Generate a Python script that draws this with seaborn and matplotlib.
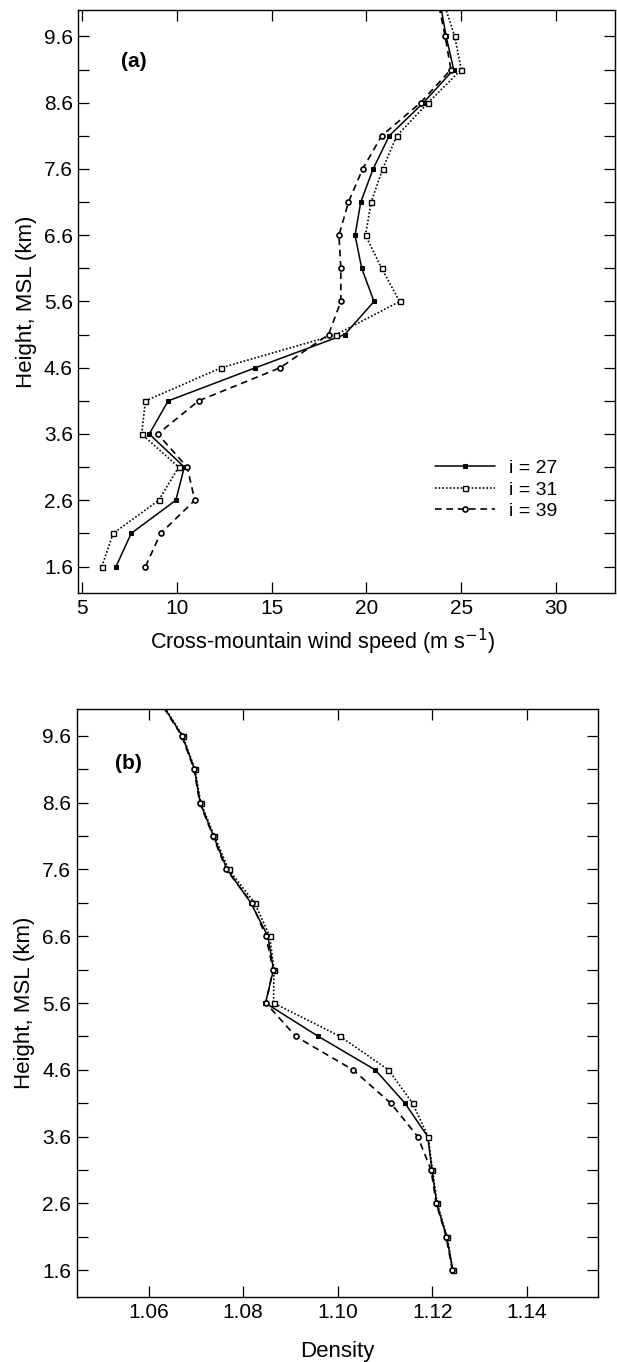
import numpy as np
import pandas as pd
import matplotlib
matplotlib.use("Agg")
import matplotlib.pyplot as plt
import seaborn as sns
from matplotlib.ticker import FixedLocator
from matplotlib.legend_handler import HandlerLine2D

# ---------------- data ----------------
heights = [1.6, 2.1, 2.6, 3.1, 3.6, 4.1, 4.6, 5.1, 5.6, 6.1, 6.6, 7.1, 7.6, 8.1, 8.6, 9.1, 9.6, 10.1]

wind_i27 = [6.8, 7.6, 9.95, 10.4, 8.55, 9.55, 14.15, 18.85, 20.4, 19.75, 19.4, 19.7, 20.35, 21.2, 23.0, 24.6, 24.2, 23.89]
wind_i31 = [6.05, 6.65, 9.05, 10.1, 8.15, 8.35, 12.35, 18.4, 21.75, 20.8, 19.95, 20.25, 20.85, 21.6, 23.25, 25.0, 24.65, 24.09]
wind_i39 = [8.35, 9.15, 10.95, 10.55, 9.0, 11.15, 15.45, 18.0, 18.65, 18.65, 18.55, 19.05, 19.8, 20.8, 22.85, 24.45, 24.15, 23.79]

dens_i27 = [1.1243, 1.1230, 1.1209, 1.1199, 1.1190, 1.1142, 1.1079, 1.0959, 1.0847, 1.0864, 1.0852, 1.0816, 1.0766, 1.0737, 1.0709, 1.0697, 1.0671, 1.0626]
dens_i31 = [1.1243, 1.1231, 1.1210, 1.1200, 1.1191, 1.1158, 1.1107, 1.1005, 1.0864, 1.0865, 1.0856, 1.0824, 1.0769, 1.0739, 1.0710, 1.0698, 1.0672, 1.0627]
dens_i39 = [1.1242, 1.1229, 1.1208, 1.1197, 1.1169, 1.1112, 1.1032, 1.0911, 1.0848, 1.0863, 1.0848, 1.0818, 1.0764, 1.0736, 1.0708, 1.0696, 1.0670, 1.0625]

series_labels = ["i = 27", "i = 31", "i = 39"]
ytick_major = [1.6, 2.6, 3.6, 4.6, 5.6, 6.6, 7.6, 8.6, 9.6]
ytick_minor = [2.1, 3.1, 4.1, 5.1, 6.1, 7.1, 8.1, 9.1]
xticks_a = [5, 10, 15, 20, 25, 30]
xticks_b = [1.06, 1.08, 1.10, 1.12, 1.14]
xticklabels_b = ["1.06", "1.08", "1.10", "1.12", "1.14"]

# ---------------- style ----------------
sns.set_style("ticks")
plt.rcParams["font.family"] = ["Liberation Sans", "DejaVu Sans"]
plt.rcParams["axes.linewidth"] = 1.0
plt.rcParams["text.color"] = "black"
plt.rcParams["axes.labelcolor"] = "black"
plt.rcParams["xtick.color"] = "black"
plt.rcParams["ytick.color"] = "black"

fig = plt.figure(figsize=(6.17, 13.62), dpi=100)
ax_a = fig.add_axes([0.1272, 0.5646, 0.8695, 0.4281])
ax_b = fig.add_axes([0.1243, 0.0477, 0.8450, 0.4317])

styles = [
    dict(linestyle="-", marker="s", markersize=3.2, markerfacecolor="black",
         markeredgecolor="black", linewidth=1.1),
    dict(linestyle=(0, (1, 1.2)), marker="s", markersize=3.6, markerfacecolor="white",
         markeredgecolor="black", markeredgewidth=1.0, linewidth=1.2),
    dict(linestyle=(0, (4, 2.8)), marker="o", markersize=3.6, markerfacecolor="white",
         markeredgecolor="black", markeredgewidth=1.2, linewidth=1.2),
]


def draw(ax, series, xlim, xticks, xticklabels, xlabel, xlabelpad, xlabelsize):
    for vals, lab, st in zip(series, series_labels, styles):
        df = pd.DataFrame({"x": vals, "h": heights})
        sns.lineplot(data=df, x="x", y="h", sort=False, estimator=None, ax=ax,
                     color="black", label=lab, **st)
    ax.set_xlim(*xlim)
    ax.set_ylim(1.2, 10.0)
    ax.xaxis.set_major_locator(FixedLocator(xticks))
    ax.set_xticklabels(xticklabels)
    ax.yaxis.set_major_locator(FixedLocator(ytick_major))
    ax.yaxis.set_minor_locator(FixedLocator(ytick_minor))
    ax.set_yticklabels([f"{v:.1f}" for v in ytick_major])
    ax.tick_params(axis="both", which="both", direction="in", length=8, width=0.9,
                   top=True, right=True, labelsize=15, pad=4, colors="black")
    ax.set_xlabel(xlabel, fontsize=xlabelsize, labelpad=xlabelpad)
    ax.set_ylabel("Height, MSL (km)", fontsize=16, labelpad=5)
    for s in ax.spines.values():
        s.set_color("black")
    leg = ax.get_legend()
    if leg is not None:
        leg.remove()


draw(ax_a, [wind_i27, wind_i31, wind_i39], (4.82, 33.1), xticks_a,
     [str(v) for v in xticks_a], "Cross-mountain wind speed (m s$^{-1}$)", 8, 15.5)
draw(ax_b, [dens_i27, dens_i31, dens_i39], (1.0448, 1.155), xticks_b,
     xticklabels_b, "Density", 14, 16)

# the wind-speed label sits a little left of the axes centre in the reference
ax_a.xaxis.label.set_horizontalalignment("center")
ax_a.xaxis.set_label_coords(0.455, -0.058)

ax_a.text(0.08, 0.912, "(a)", transform=ax_a.transAxes, fontsize=15,
          fontweight="bold", ha="left", va="center")
ax_b.text(0.0735, 0.908, "(b)", transform=ax_b.transAxes, fontsize=15,
          fontweight="bold", ha="left", va="center")


class LeftMarkerHandler(HandlerLine2D):
    def get_xdata(self, legend, xdescent, ydescent, width, height, fontsize):
        xdata = np.array([-xdescent, -xdescent + width], float)
        return xdata, np.array([-xdescent], float)


handles = ax_a.get_lines()[:3]
ax_a.legend(handles, series_labels, loc="center left", bbox_to_anchor=(0.6645, 0.177),
            frameon=False, fontsize=14, handlelength=3.1, handletextpad=0.7,
            labelspacing=0.2, borderpad=0, borderaxespad=0,
            handler_map={h: LeftMarkerHandler() for h in handles})

fig.savefig("out.png", dpi=100)
